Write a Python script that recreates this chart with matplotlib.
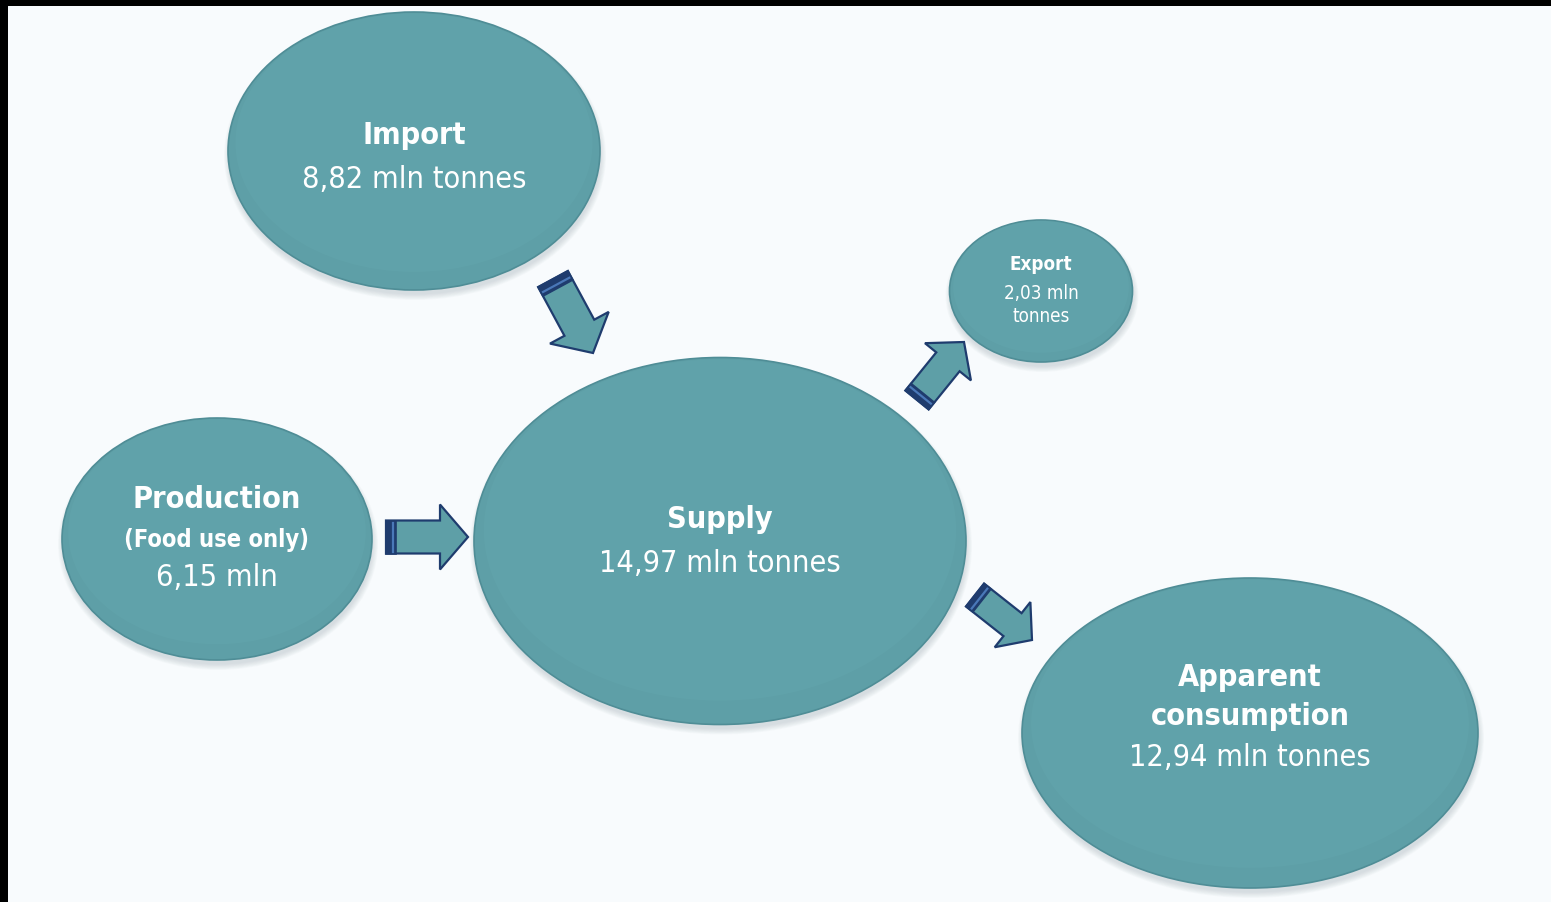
import numpy as np
import matplotlib
matplotlib.use("Agg")
import matplotlib.pyplot as plt
from matplotlib.patches import Ellipse, Polygon

# ---- data ----
node_titles = ["Import", "Production", "Supply", "Export", "Apparent\nconsumption"]
node_subtitles = ["", "(Food use only)", "", "", ""]
node_values = [8.82, 6.15, 14.97, 2.03, 12.94]
node_units = ["mln tonnes", "mln", "mln tonnes", "mln\ntonnes", "mln tonnes"]

# ---- layout (pixel coordinates) ----
centers = [(414, 151), (217, 539), (720, 541), (1041, 291), (1250, 733)]
sizes = [(372, 278), (310, 242), (492, 367), (183, 142), (456, 310)]
title_fs = [22, 22, 22, 13.5, 22]
value_fs = [22, 22, 22, 13.5, 22]
# arrows: tail centre, tip
arrows = [((553, 279), (593, 353)), ((386, 537), (468, 537)),
          ((917, 400), (964, 342)), ((975, 595), (1032, 640))]

W, H = 1551, 902
fig = plt.figure(figsize=(W / 100, H / 100), dpi=100, facecolor="black")
ax = fig.add_axes([8 / W, 0, 1 - 8 / W, 1 - 6 / H])
ax.set_xlim(8, W)
ax.set_ylim(H, 6)
ax.set_facecolor("#f8fbfd")
ax.axis("off")
ax.add_patch(plt.Rectangle((8, 6), W, H, color="#f8fbfd", zorder=0))

fill = "#5e9fa7"
edge = "#4f8d96"
navy = "#1f3c6e"

def fmt(v):
    return f"{v:.2f}".replace(".", ",")

for i, ((cx, cy), (w, h)) in enumerate(zip(centers, sizes)):
    # soft shadow
    for k in range(8):
        ax.add_patch(Ellipse((cx + 1, cy + 5), w + 10 - k * 1.6, h + 10 - k * 1.6,
                             color="#7f8f98", alpha=0.035, lw=0, zorder=1))
    ax.add_patch(Ellipse((cx, cy), w, h, facecolor=fill, edgecolor=edge, lw=1.2, zorder=2))
    ax.add_patch(Ellipse((cx, cy - h * 0.03), w * 0.96, h * 0.93, facecolor="#63a6ad",
                         edgecolor="none", alpha=0.5, zorder=2.1))

fontkw = dict(family="DejaVu Sans", stretch="condensed", color="white",
              ha="center", va="center", zorder=5)

for i, (cx, cy) in enumerate(centers):
    tfs, vfs = title_fs[i], value_fs[i]
    title = node_titles[i]
    sub = node_subtitles[i]
    val = f"{fmt(node_values[i])} {node_units[i]}"
    if i == 0:
        ax.text(cx, 135, title, fontsize=tfs, weight="bold", **fontkw)
        ax.text(cx, 180, val, fontsize=vfs, **fontkw)
    elif i == 1:
        ax.text(cx, 499, title, fontsize=tfs, weight="bold", **fontkw)
        ax.text(cx, 540, sub, fontsize=17, weight="bold", **fontkw)
        ax.text(cx, 578, val, fontsize=vfs, **fontkw)
    elif i == 2:
        ax.text(cx, 520, title, fontsize=tfs, weight="bold", **fontkw)
        ax.text(cx, 563, val, fontsize=vfs, **fontkw)
    elif i == 3:
        ax.text(cx, 265, title, fontsize=tfs, weight="bold", **fontkw)
        ax.text(cx, 305, val, fontsize=vfs, linespacing=1.25, **fontkw)
    else:
        ax.text(cx, 697, title, fontsize=tfs, weight="bold", linespacing=1.4, **fontkw)
        ax.text(cx, 758, val, fontsize=vfs, **fontkw)

# block arrows
L0, SW, HW, HL = 82.0, 33.0, 65.0, 28.0
for (tx, ty), (hx, hy) in arrows:
    d = np.array([hx - tx, hy - ty], float)
    L = np.hypot(*d)
    u = d / L
    n = np.array([-u[1], u[0]])
    s = L / L0
    sw, hw, hl = SW * s, HW * s, HL * s
    t = np.array([tx, ty], float)
    def P(a, b):
        return t + u * a + n * b
    pts = [P(0, -sw / 2), P(L - hl, -sw / 2), P(L - hl, -hw / 2), P(L, 0),
           P(L - hl, hw / 2), P(L - hl, sw / 2), P(0, sw / 2)]
    ax.add_patch(Polygon(pts, closed=True, facecolor=fill, edgecolor=navy, lw=1.6,
                         joinstyle="miter", zorder=4))
    band = [P(0, -sw / 2), P(10 * s, -sw / 2), P(10 * s, sw / 2), P(0, sw / 2)]
    ax.add_patch(Polygon(band, closed=True, facecolor=navy, edgecolor=navy, lw=1.2, zorder=4.1))
    ax.plot([P(6.5 * s, -sw / 2 + 2)[0], P(6.5 * s, sw / 2 - 2)[0]],
            [P(6.5 * s, -sw / 2 + 2)[1], P(6.5 * s, sw / 2 - 2)[1]],
            color="#4a78b8", lw=1.6, zorder=4.2)

fig.savefig("out.png", dpi=100, facecolor="black")
